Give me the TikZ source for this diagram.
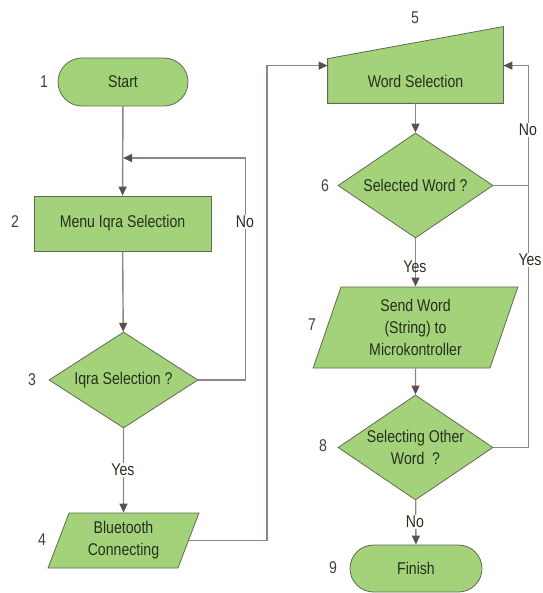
\documentclass[tikz,border=0pt]{standalone}
\usepackage{fontspec}
\setmainfont{Liberation Sans}[FakeStretch=0.83]
\usetikzlibrary{shapes.geometric,shapes.misc,arrows.meta,backgrounds}
\definecolor{boxgreen}{HTML}{A4D27A}
\definecolor{boxline}{HTML}{5E6B52}
\definecolor{flow}{HTML}{8E8585}
\definecolor{tipc}{HTML}{5C4F4F}
\definecolor{txt}{HTML}{26301C}
\definecolor{numc}{HTML}{404040}
\tikzset{
  base/.style={fill=boxgreen, draw=boxline, line width=0.8pt, text=txt,
    font=\fontsize{17}{22}\selectfont, align=center, inner sep=0pt},
  term/.style={base, rounded rectangle, minimum width=130pt, minimum height=48pt},
  proc/.style={base, rectangle, minimum width=177pt, minimum height=55pt},
  decide/.style={base, diamond, aspect=1.48, minimum width=155pt, minimum height=105pt},
  io/.style={base, trapezium, trapezium stretches=true},
  manual/.style={base, rectangle, draw=none, fill=none, minimum width=175pt, minimum height=44pt},
  line/.style={draw=flow, line width=1.4pt},
  arr/.style={line, -{Triangle[length=9pt,width=8pt,color=tipc]}},
  num/.style={text=numc, font=\fontsize{17}{18}\selectfont},
  tag/.style={text=txt, font=\fontsize{17}{18}\selectfont, fill=white, inner sep=1pt}
}
\begin{document}
\begin{tikzpicture}[x=1pt, y=-1pt]
\useasboundingbox (0,0) rectangle (542,593);
% linker kolom
\node[term] (start) at (123,82) {Start};
\node[proc] (menu) at (122.5,223.5) {Menu Iqra Selection};
\node[decide, minimum width=149pt, minimum height=96pt, aspect=1.55] (iqra) at (123.5,380) {Iqra Selection ?};
\node[io, trapezium left angle=70, trapezium right angle=110,
  minimum width=151pt, minimum height=55pt] (bt) at (123.5,540.5) {Bluetooth\\Connecting};

% rechter kolom
\node[manual] (word) at (415.5,81) {Word Selection};
\begin{scope}[on background layer]
\draw[fill=boxgreen, draw=boxline, line width=0.8pt] (word.south west) -- (word.north west)
  -- ([yshift=32pt]word.north east) -- (word.south east) -- cycle;
\end{scope}
\node[decide] (sel) at (415.5,185.5) {Selected Word ?};
\node[io, trapezium left angle=73, trapezium right angle=107,
  minimum width=205pt, minimum height=81pt] (send) at (415.5,327.5) {Send Word\\(String) to\\Microkontroller};
\node[decide, inner xsep=-8pt] (other) at (415.5,447.5) {Selecting Other\\Word\ \ ?};
\node[term, minimum width=132pt, minimum height=47pt] (finish) at (416,568.5) {Finish};

% hulppunten
\coordinate (j1) at (123,158);
\coordinate (wl) at ([yshift=-7pt]word.north west);
\coordinate (wr) at ([yshift=-7pt]word.north east);

% verbindingen
\draw[arr] (start) -- (menu);
\draw[arr] (menu) -- (iqra);
\draw[arr] (iqra.east) -- ++(47,0) |- (j1);
\draw[arr] (iqra) -- (bt);
\draw[arr] (bt.east) -- ++(78,0) |- (wl);
\draw[arr] (word) -- (sel);
\draw[line] (sel.east) -- ++(35,0);
\draw[arr] (sel) -- (send);
\draw[arr] (send) -- (other);
\draw[arr] (other.east) -- ++(35,0) |- (wr);
\draw[arr] (other) -- (finish);

% labels
\node[tag] (no3) at (245,222) {No};
\node[tag] (yes3) at (123,470) {Yes};
\node[tag] (no6) at (528,130) {No};
\node[tag] (yes8) at (530,260) {Yes};
\node[tag, fill=none] (yes6) at (415,267) {Yes};
\node[tag] (no8) at (415,522) {No};

% nummers
\node[num] (n1) at (44,82) {1};
\node[num] (n2) at (15,222) {2};
\node[num] (n3) at (32,380) {3};
\node[num] (n4) at (42,540) {4};
\node[num] (n5) at (415,18) {5};
\node[num] (n6) at (325,186) {6};
\node[num] (n7) at (312,325) {7};
\node[num] (n8) at (323,446) {8};
\node[num] (n9) at (333,568) {9};
\end{tikzpicture}
\end{document}
